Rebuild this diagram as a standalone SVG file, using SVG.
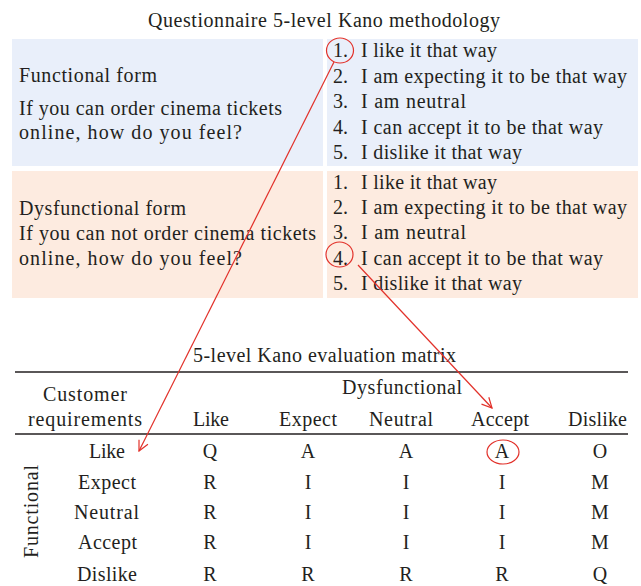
<svg xmlns="http://www.w3.org/2000/svg" width="641" height="586" viewBox="0 0 641 586">
<style>
text{font-family:"Liberation Serif","DejaVu Serif",serif;font-size:20px;fill:#231f20}
.c{text-anchor:middle}
.blue{fill:#e9effa}
.peach{fill:#fdebe0}
.red{fill:none;stroke:#e2312a;stroke-width:1.2}
.rule{stroke:#231f20;stroke-width:1.5}
</style>
<defs>
<marker id="ah" viewBox="0 0 12 12" refX="11" refY="6" markerWidth="12" markerHeight="12" markerUnits="userSpaceOnUse" orient="auto">
<path d="M1,1 L11,6 L1,11" fill="none" stroke="#e2312a" stroke-width="1.2"/>
</marker>
</defs>
<rect width="641" height="586" fill="#fff"/>
<text x="148" y="27" textLength="352">Questionnaire 5-level Kano methodology</text>
<g id="functional-form">
<rect class="blue" x="12" y="39" width="311" height="127"/>
<text x="19" y="82" textLength="138">Functional form</text>
<text x="19" y="115" textLength="263">If you can order cinema tickets</text>
<text x="19" y="139" textLength="223">online, how do you feel?</text>
</g>
<g id="functional-answers">
<rect class="blue" x="327" y="39" width="311" height="127"/>
<text x="333" y="57">1.</text><text x="361" y="57" textLength="136">I like it that way</text>
<text x="333" y="83">2.</text><text x="361" y="83" textLength="266">I am expecting it to be that way</text>
<text x="333" y="108">3.</text><text x="361" y="108" textLength="105">I am neutral</text>
<text x="333" y="134">4.</text><text x="361" y="134" textLength="242">I can accept it to be that way</text>
<text x="333" y="159">5.</text><text x="361" y="159" textLength="161">I dislike it that way</text>
</g>
<g id="dysfunctional-form">
<rect class="peach" x="12" y="171" width="311" height="127"/>
<text x="19" y="215" textLength="167">Dysfunctional form</text>
<text x="19" y="240" textLength="297">If you can not order cinema tickets</text>
<text x="19" y="265" textLength="223">online, how do you feel?</text>
</g>
<g id="dysfunctional-answers">
<rect class="peach" x="327" y="171" width="311" height="127"/>
<text x="333" y="189">1.</text><text x="361" y="189" textLength="136">I like it that way</text>
<text x="333" y="214">2.</text><text x="361" y="214" textLength="266">I am expecting it to be that way</text>
<text x="333" y="239">3.</text><text x="361" y="239" textLength="105">I am neutral</text>
<text x="333" y="265">4.</text><text x="361" y="265" textLength="242">I can accept it to be that way</text>
<text x="333" y="290">5.</text><text x="361" y="290" textLength="161">I dislike it that way</text>
</g>
<g id="matrix">
<text x="193" y="362" textLength="263">5-level Kano evaluation matrix</text>
<line class="rule" x1="15" y1="372" x2="628" y2="372"/>
<line class="rule" x1="15" y1="434" x2="628" y2="434"/>
<text x="43" y="401" textLength="84">Customer</text>
<text x="28" y="426" textLength="114">requirements</text>
<text x="342" y="394" textLength="120">Dysfunctional</text>
<text x="193" y="426" textLength="36">Like</text>
<text x="279" y="426" textLength="58">Expect</text>
<text x="369" y="426" textLength="64">Neutral</text>
<text x="471" y="426" textLength="58">Accept</text>
<text x="568" y="426" textLength="59">Dislike</text>
<text transform="translate(38,558) rotate(-90)" textLength="93">Functional</text>
<text x="89" y="458" textLength="36">Like</text>
<text x="78" y="489" textLength="58">Expect</text>
<text x="74" y="519" textLength="65">Neutral</text>
<text x="78" y="549" textLength="59">Accept</text>
<text x="77" y="581" textLength="60">Dislike</text>
<g>
<text class="c" x="210" y="458">Q</text><text class="c" x="308" y="458">A</text><text class="c" x="406" y="458">A</text><text class="c" x="502" y="458">A</text><text class="c" x="600" y="458">O</text>
<text class="c" x="210" y="489">R</text><text class="c" x="308" y="489">I</text><text class="c" x="406" y="489">I</text><text class="c" x="502" y="489">I</text><text class="c" x="600" y="489">M</text>
<text class="c" x="210" y="519">R</text><text class="c" x="308" y="519">I</text><text class="c" x="406" y="519">I</text><text class="c" x="502" y="519">I</text><text class="c" x="600" y="519">M</text>
<text class="c" x="210" y="549">R</text><text class="c" x="308" y="549">I</text><text class="c" x="406" y="549">I</text><text class="c" x="502" y="549">I</text><text class="c" x="600" y="549">M</text>
<text class="c" x="210" y="581">R</text><text class="c" x="308" y="581">R</text><text class="c" x="406" y="581">R</text><text class="c" x="502" y="581">R</text><text class="c" x="600" y="581">Q</text>
</g>
</g>
<g id="connectors">
<ellipse class="red" cx="340" cy="50.5" rx="13.5" ry="12.5"/>
<ellipse class="red" cx="339.5" cy="254.5" rx="13.5" ry="12.5"/>
<ellipse class="red" cx="503" cy="452" rx="16" ry="12"/>
<line class="red" x1="334" y1="62" x2="139" y2="451" marker-end="url(#ah)"/>
<line class="red" x1="358" y1="265" x2="492" y2="408" marker-end="url(#ah)"/>
</g>
</svg>
